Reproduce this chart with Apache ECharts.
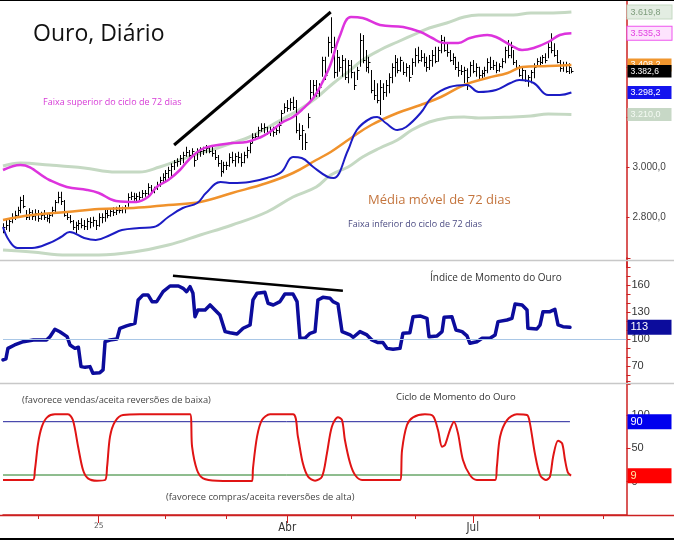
<!DOCTYPE html>
<html><head><meta charset="utf-8">
<script src="https://cdn.jsdelivr.net/npm/echarts@6/dist/echarts.min.js"></script>
<style>html,body{margin:0;padding:0;background:#fff}#c{width:674px;height:540px}</style>
</head><body><div id="c"></div>
<script>
// ---------- axis / category data ----------
const dayCount = 216;                       // trading-day slots on the time axis
const dayIdx = Array.from({length: dayCount}, (_, i) => String(i));
const monthTickIdx = [12, 33, 56, 77, 98, 120, 142, 162, 185, 207];
const monthTickLabels = ['', '25', '', '', 'Abr', '', '', 'Jul', '', ''];
const topAxisLabels = [2800, 3000];
const momAxisLabels = [70, 100, 130, 160];
const cycAxisLabels = [0, 50, 100];

// ---------- price bars (daily) ----------
const barHigh = [2775,2788,2795,2815,2825,2841,2881,2888,2828,2835,2828,2831,2828,2821,2828,2815,2815,2841,2868,2901,
2901,2868,2821,2808,2788,2781,2788,2795,2788,2795,2799,2801,2788,2815,2815,2828,2828,2835,2839,2841,
2848,2841,2848,2895,2901,2897,2895,2901,2908,2908,2935,2928,2921,2941,2961,2975,2988,3001,3015,3028,
3035,3048,3061,3081,3068,3075,3055,3075,3079,3081,3088,3081,3081,3068,3048,3028,3021,3021,3055,3061,
3055,3061,3055,3061,3081,3108,3135,3135,3161,3175,3175,3161,3161,3161,3161,3181,3228,3255,3268,3275,
3281,3268,3175,3168,3135,3215,3348,3348,3348,3335,3441,3441,3521,3599,3521,3468,3441,3448,3435,3428,
3428,3381,3401,3535,3528,3468,3441,3388,3348,3335,3348,3335,3348,3375,3415,3448,3435,3441,3421,3415,
3408,3435,3475,3481,3468,3455,3441,3448,3468,3481,3481,3528,3521,3495,3468,3455,3441,3421,3408,3401,
3395,3421,3428,3415,3401,3388,3401,3435,3441,3428,3421,3415,3435,3481,3508,3501,3468,3428,3408,3401,
3388,3368,3388,3415,3435,3441,3448,3455,3495,3535,3495,3468,3428,3421,3421,3415,3395];
const barLow = [2735,2748,2741,2775,2788,2801,2815,2835,2788,2788,2788,2785,2781,2788,2788,2781,2775,2801,2815,2855,
2848,2801,2788,2775,2748,2735,2748,2755,2748,2748,2755,2761,2748,2761,2775,2781,2795,2801,2804,2808,
2815,2815,2815,2841,2868,2865,2861,2868,2875,2881,2881,2895,2895,2908,2921,2935,2941,2955,2961,2988,
3001,3008,3015,3041,3041,3041,3001,3028,3041,3048,3055,3055,3041,3028,3001,2961,2975,2988,3001,3015,
3001,3015,3001,3015,3035,3055,3095,3108,3115,3141,3135,3128,3124,3121,3128,3135,3175,3215,3221,3225,
3228,3135,3108,3068,3068,3155,3268,3275,3281,3281,3361,3348,3441,3455,3355,3361,3381,3361,3348,3335,
3355,3308,3348,3401,3415,3381,3375,3295,3268,3255,3208,3268,3281,3295,3335,3361,3375,3381,3368,3361,
3341,3368,3401,3415,3421,3401,3381,3388,3401,3415,3421,3455,3461,3441,3421,3408,3388,3361,3368,3335,
3308,3361,3375,3361,3348,3355,3361,3375,3388,3388,3375,3381,3395,3415,3435,3435,3408,3388,3361,3348,
3341,3321,3335,3355,3401,3408,3412,3415,3435,3455,3441,3415,3381,3381,3377,3372,3375];
const barClose = [2760,2770,2785,2800,2810,2830,2870,2845,2800,2820,2805,2815,2795,2810,2800,2795,2810,2830,2860,2880,
2865,2810,2800,2785,2760,2770,2775,2770,2765,2785,2780,2790,2770,2800,2800,2815,2810,2825,2820,2830,
2830,2835,2840,2880,2885,2875,2885,2880,2895,2895,2920,2910,2915,2930,2950,2960,2975,2990,3005,3020,
3025,3035,3050,3060,3050,3065,3030,3060,3065,3070,3075,3065,3055,3040,3015,2985,3010,3010,3040,3030,
3045,3040,3020,3050,3070,3095,3120,3125,3150,3155,3160,3140,3150,3140,3150,3170,3215,3240,3235,3260,
3240,3150,3130,3150,3100,3200,3300,3330,3295,3320,3430,3370,3500,3480,3380,3440,3400,3430,3360,3410,
3380,3330,3390,3510,3430,3400,3420,3310,3290,3270,3320,3300,3330,3360,3400,3420,3390,3430,3380,3400,
3360,3420,3450,3430,3440,3420,3400,3430,3450,3425,3470,3510,3470,3460,3430,3440,3400,3390,3385,3390,
3360,3410,3385,3400,3370,3375,3390,3420,3400,3410,3390,3405,3425,3470,3450,3480,3420,3400,3370,3390,
3350,3360,3380,3400,3425,3420,3440,3430,3480,3470,3450,3420,3395,3410,3385,3400,3382.6];

// ---------- 72-day bands and moving average: [day, price] ----------
const outerUpper = [[0,3004],[6,3016],[16,3008],[28,2996],[39,2980],[47,2980],[54,3000],[61,3028],[68,3056],[74,3076],[79,3096],[85,3120],[91,3156],[97,3196],[102,3228],[108,3276],[114,3336],[119,3380],[124,3428],[130,3468],[136,3500],[143,3536],[147,3556],[153,3576],[159,3600],[164,3608],[176,3608],[182,3616],[188,3616],[196,3619.8]];
const cycleUpper = [[0,2988],[6,3008],[16,2948],[22,2920],[29,2908],[33,2896],[39,2864],[46,2860],[50,2880],[53,2920],[57,2948],[61,2988],[64,3028],[68,3068],[72,3084],[79,3096],[84,3100],[89,3120],[92,3140],[96,3176],[100,3200],[103,3228],[107,3276],[110,3336],[113,3412],[116,3520],[120,3600],[124,3596],[130,3568],[138,3560],[144,3540],[148,3516],[152,3496],[157,3496],[161,3516],[167,3528],[170,3520],[175,3488],[179,3468],[183,3476],[188,3500],[192,3528],[196,3535.3]];
const ma72 = [[0,2788],[10,2808],[22,2820],[33,2832],[45,2836],[57,2848],[68,2860],[79,2896],[91,2936],[100,2976],[108,3028],[113,3060],[120,3116],[127,3168],[136,3216],[144,3248],[151,3280],[159,3328],[167,3356],[174,3376],[179,3400],[188,3404],[196,3408.2]];
const cycleLower = [[0,2760],[2,2708],[5,2676],[10,2676],[16,2696],[20,2720],[23,2740],[28,2716],[32,2708],[37,2728],[41,2748],[47,2756],[52,2760],[57,2800],[62,2836],[67,2856],[70,2896],[75,2940],[79,2936],[85,2940],[91,2956],[96,2980],[100,3040],[103,3036],[107,3000],[112,2960],[114,2956],[119,3068],[122,3148],[127,3196],[129,3200],[132,3176],[136,3148],[139,3160],[144,3216],[148,3280],[154,3320],[160,3328],[164,3300],[170,3308],[175,3336],[178,3348],[183,3336],[188,3288],[192,3288],[196,3298.2]];
const outerLower = [[0,2668],[10,2660],[22,2648],[33,2648],[45,2660],[57,2688],[68,2728],[79,2768],[91,2820],[100,2880],[108,2920],[113,2968],[119,3000],[124,3040],[130,3076],[136,3108],[141,3148],[147,3180],[153,3196],[159,3200],[164,3196],[176,3200],[182,3204],[188,3212],[196,3210]];
const priceTrend = [[59,3088],[113,3620]];
const lastClose = 3382.6;

// ---------- momentum index ----------
const momentum = [[0,76.7],[1,78],[1.7,89.6],[4,93.4],[7,97],[10.5,98.9],[15,98.9],[16.2,102.6],[17.9,110.8],[19.6,108],[22.1,102.6],[23.1,93.4],[24.8,89.6],[26,90.8],[26.9,69.3],[28.3,68.5],[30,69.3],[31,61.9],[33.4,62.6],[34.5,65.6],[35.2,97],[36.9,98.9],[39.3,100],[40.3,111.9],[42.6,114.5],[45.5,117.4],[46.6,143.4],[48.3,149],[50,149],[51.4,141.5],[53,141.5],[55.2,152.6],[57.6,158.9],[60.5,158.9],[62.1,156.3],[63.3,152.6],[64.5,158.2],[65.5,150.8],[66.2,124.8],[67.2,132.2],[69.7,132.2],[71.4,137.8],[73.1,132.2],[74.8,126.7],[76.6,108.2],[78.3,107],[80.7,105.6],[82.8,111.9],[85.2,115.6],[86.2,143.4],[87.6,150.8],[90.3,151.9],[91.4,139.7],[93.2,137.8],[95.5,141.5],[97.2,150],[100,150],[101.4,141.5],[102.4,100.8],[104.1,100.8],[105.9,106.3],[107.6,108.2],[108.6,143.4],[110.3,146.3],[112.8,145.2],[113.8,141.5],[115.5,138.9],[116.9,108.2],[119.7,104.5],[120.8,101.9],[123.1,108.2],[125.5,104.5],[127.2,98.9],[129.3,96],[131,96],[132.4,89.6],[134.5,88.5],[136.9,89.6],[137.9,106.3],[140.3,107],[141.4,124.8],[143.8,125.6],[146.2,123],[146.9,102.6],[149.7,103.4],[151.4,108.2],[152.1,124.1],[154.8,124.8],[156.2,110],[158.3,108.2],[160,103.4],[161,95.2],[163.4,97],[165.2,100.8],[167.9,100.8],[169.7,104.5],[170.7,119.3],[173.8,121.1],[175.5,123],[176.6,138.9],[179,137.8],[180.7,132.2],[181,111.9],[184.1,111.1],[185.2,115.6],[186.2,130.4],[188.6,130.4],[190.3,133],[191.4,115.6],[193.1,113.7],[195.5,113]];
const momentumTrend = [[58.6,170.3],[117.2,153.7]];
const momentumBase = 100;
const momentumLast = 113;

// ---------- momentum cycle ----------
const cycle = [[0,2.5],[10.3,2.5],[11,17.5],[12.1,57.5],[13.4,82.5],[15.2,96.5],[17.9,101],[22.4,101],[24.1,92.5],[25.9,52.5],[27.6,17.5],[29.3,5],[32.4,1.5],[35.2,2.5],[35.9,22.5],[36.9,67.5],[38.6,90],[41.4,100],[47.2,101],[64.5,101],[65.2,52.5],[66.9,17.5],[69,5],[73.8,1.5],[85.9,1],[86.2,20],[87.6,67.5],[89.3,92.5],[92.1,101],[100,101],[101.7,67.5],[103.4,27.5],[105.2,7.5],[107.6,1.5],[110,7.5],[111.7,42.5],[113.4,82.5],[115.5,96.5],[116.9,92.5],[117.9,62.5],[119.7,27.5],[121.4,10],[123.8,2.5],[136.9,2.5],[137.6,47.5],[139.3,85],[141.4,96.5],[145.5,101],[148.3,98.5],[150,77.5],[151.4,52.5],[152.4,55],[154.1,77.5],[155.5,90],[156.9,72.5],[158.6,32.5],[161,10],[163.4,2.5],[169.7,2.5],[170.3,22.5],[171.4,67.5],[173.8,92.5],[177.2,101],[180.7,100],[181.7,87.5],[183.4,42.5],[185.2,10],[187.2,2.5],[188.6,7.5],[189.7,37.5],[191.4,61.5],[192.8,57.5],[193.8,32.5],[194.8,13.5],[195.9,9]];
const cycleHigh = [[0,90],[195.5,90]];
const cycleLow = [[0,10],[195.5,10]];
const cycleLast = 9;

// ---------- helpers ----------
const fmtBR = (v, d) => {
  const s = Number(v).toFixed(d).split('.');
  return s[0].replace(/\B(?=(\d{3})+(?!\d))/g, '.') + (d ? ',' + s[1] : '');
};
const AX = '#cc2020';
function box(val, text, bg, fg, border, fs) {
  return {
    silent: true, symbol: 'none', animation: false,
    lineStyle: {color: 'rgba(0,0,0,0)', width: 0, type: 'solid'},
    data: [{yAxis: val}],
    label: {
      show: true, position: 'end', distance: 1, formatter: text,
      backgroundColor: bg, color: fg, borderColor: border || bg, borderWidth: border ? 1 : 0,
      padding: [1, 2, 1, 3], width: 39, fontSize: fs, lineHeight: fs + 2,
      fontFamily: 'Liberation Sans, Arial, sans-serif', opacity: 1
    }
  };
}
const X0 = {min: 0, max: dayCount - 1, type: 'value', show: false, axisLine: {onZero: false}};
const gridL = 3, gridW = 623.5;

const chart = echarts.init(document.getElementById('c'), null, {renderer: 'canvas'});
chart.setOption({
  animation: false,
  backgroundColor: '#fff',
  grid: [
    {left: gridL, width: gridW, top: 0, height: 267, outerBoundsMode: 'none'},
    {left: gridL, width: gridW, top: 258, height: 126, outerBoundsMode: 'none'},
    {left: gridL, width: gridW, top: 381.7, height: 133.3, outerBoundsMode: 'none'}
  ],
  xAxis: [
    Object.assign({gridIndex: 0}, X0),
    Object.assign({gridIndex: 1}, X0),
    Object.assign({gridIndex: 2}, X0),
    {type: 'category', gridIndex: 2, data: dayIdx, boundaryGap: false, position: 'bottom',
     axisLine: {show: true, onZero: false, lineStyle: {color: AX, width: 1.5}},
     axisTick: {show: true, length: 4, interval: (i) => monthTickIdx.includes(i), lineStyle: {color: AX, width: 1}},
     axisLabel: {show: true, margin: 7, interval: (i) => { const k = monthTickIdx.indexOf(i); return k >= 0 && monthTickLabels[k] !== ''; },
       formatter: (v, i) => { const k = monthTickIdx.indexOf(i); if (k < 0 || !monthTickLabels[k]) return ''; const t = monthTickLabels[k]; return /^\d+$/.test(t) ? '{s|' + t + '}' : '{b|' + t + '}'; },
       rich: {s: {fontSize: 7.5, color: '#555', fontFamily: 'DejaVu Sans'}, b: {fontSize: 11.5, color: '#333', fontFamily: 'DejaVu Sans Condensed, DejaVu Sans'}}},
     splitLine: {show: false}},
    {type: 'category', gridIndex: 2, data: dayIdx, boundaryGap: false, position: 'bottom',
     axisLine: {show: false, onZero: false},
     axisTick: {show: true, length: 8, interval: (i) => { const k = monthTickIdx.indexOf(i); return k >= 0 && monthTickLabels[k] !== ''; }, lineStyle: {color: AX, width: 1}},
     axisLabel: {show: false}, splitLine: {show: false}}
  ],
  yAxis: [
    {type: 'value', gridIndex: 0, position: 'right', min: 2600, max: 3668, interval: 200,
     axisLine: {show: true, onZero: false, lineStyle: {color: AX, width: 1.5}},
     axisTick: {show: true, inside: false, length: 3, lineStyle: {color: AX}},
     axisLabel: {margin: 6, fontSize: 10, color: '#444', fontFamily: 'Liberation Sans, Arial', formatter: (v) => topAxisLabels.includes(v) ? fmtBR(v, 1) : ''},
     splitLine: {show: false}},
    {type: 'value', gridIndex: 1, position: 'right', min: 50, max: 190, interval: 10,
     axisLine: {show: true, onZero: false, lineStyle: {color: AX, width: 1.5}},
     axisTick: {show: true, length: 4, lineStyle: {color: AX}},
     axisLabel: {margin: 5, fontSize: 11, color: '#333', fontFamily: 'Liberation Sans, Arial', formatter: (v) => momAxisLabels.includes(v) ? String(v) : ''},
     splitLine: {show: false}},
    {type: 'value', gridIndex: 2, position: 'right', min: -50, max: 150, interval: 50,
     axisLine: {show: true, onZero: false, lineStyle: {color: AX, width: 1.5}},
     axisTick: {show: true, length: 4, lineStyle: {color: AX}},
     axisLabel: {margin: 5, fontSize: 11, color: '#333', fontFamily: 'Liberation Sans, Arial', formatter: (v) => cycAxisLabels.includes(v) ? String(v) : ''},
     splitLine: {show: false}}
  ],
  series: [
    {name: 'outerUpper', type: 'line', xAxisIndex: 0, yAxisIndex: 0, data: outerUpper, smooth: 0.4, showSymbol: false, z: 2,
     lineStyle: {color: '#c5d9c3', width: 3}, markLine: box(3619.8, (p) => fmtBR(p.value, 1), '#e3ede2', '#7e9c7c', '#c5d9c3', 9)},
    {name: 'outerLower', type: 'line', xAxisIndex: 0, yAxisIndex: 0, data: outerLower, smooth: 0.4, showSymbol: false, z: 2,
     lineStyle: {color: '#c5d9c3', width: 3}, markLine: box(3210, (p) => fmtBR(p.value, 1), '#c7d8c6', '#f4faf3', null, 9)},
    {name: 'bars', type: 'custom', xAxisIndex: 0, yAxisIndex: 0, z: 3,
     data: barHigh.map((h, i) => [i, h, barLow[i], barClose[i]]),
     encode: {x: 0, y: [1, 2, 3]},
     renderItem: (params, api) => {
       const i = api.value(0);
       const hi = api.coord([i, api.value(1)]);
       const lo = api.coord([i, api.value(2)]);
       const cl = api.coord([i, api.value(3)]);
       const x = Math.round(hi[0]) + 0.5;
       const yc = Math.round(cl[1]) + 0.5;
       return {type: 'group', children: [
         {type: 'line', shape: {x1: x, y1: hi[1], x2: x, y2: lo[1]}, style: {stroke: '#000', lineWidth: 1}},
         {type: 'line', shape: {x1: x, y1: yc, x2: x + 2, y2: yc}, style: {stroke: '#000', lineWidth: 1}}
       ]};
     }},
    {name: 'cycleUpper', type: 'line', xAxisIndex: 0, yAxisIndex: 0, data: cycleUpper, smooth: 0.4, showSymbol: false, z: 4,
     lineStyle: {color: '#dd33dd', width: 2.5}, markLine: box(3535.3, (p) => fmtBR(p.value, 1), '#fde3fd', '#e23ee2', '#ee55ee', 9)},
    {name: 'ma72', type: 'line', xAxisIndex: 0, yAxisIndex: 0, data: ma72, smooth: 0.4, showSymbol: false, z: 4,
     lineStyle: {color: '#f0922c', width: 2.5}, markLine: box(3408.2, (p) => fmtBR(p.value, 1), '#f0962e', '#fff', null, 9)},
    {name: 'cycleLower', type: 'line', xAxisIndex: 0, yAxisIndex: 0, data: cycleLower, smooth: 0.4, showSymbol: false, z: 4,
     lineStyle: {color: '#1c1cc4', width: 2}, markLine: box(3298.2, (p) => fmtBR(p.value, 1), '#1414ee', '#fff', null, 9)},
    {name: 'priceTrend', type: 'line', xAxisIndex: 0, yAxisIndex: 0, data: priceTrend, showSymbol: false, z: 5,
     lineStyle: {color: '#000', width: 3}},
    {name: 'close', type: 'line', xAxisIndex: 0, yAxisIndex: 0, data: [[dayCount - 20, lastClose]], showSymbol: false, z: 6,
     lineStyle: {opacity: 0}, markLine: box(lastClose, (p) => fmtBR(p.value, 1), '#000', '#fff', null, 8.5)},

    {name: 'momentum', type: 'line', xAxisIndex: 1, yAxisIndex: 1, data: momentum, showSymbol: false, z: 4,
     lineStyle: {color: '#0c0c9c', width: 3.5, join: 'round', cap: 'round'},
     markLine: {silent: true, symbol: 'none', animation: false,
       data: [
         {yAxis: momentumBase, lineStyle: {color: '#a9c7e6', width: 1, type: 'solid', opacity: 1}, label: {show: false}}
       ]}},
    {name: 'momentumBox', type: 'line', xAxisIndex: 1, yAxisIndex: 1, data: [[dayCount - 20, momentumLast]], showSymbol: false, z: 6,
     lineStyle: {opacity: 0}, markLine: box(momentumLast, (p) => String(Math.round(p.value)), '#0c0c9c', '#fff', null, 11)},
    {name: 'momentumTrend', type: 'line', xAxisIndex: 1, yAxisIndex: 1, data: momentumTrend, showSymbol: false, z: 5,
     lineStyle: {color: '#000', width: 2.5}},

    {name: 'cycleHigh', type: 'line', xAxisIndex: 2, yAxisIndex: 2, data: cycleHigh, showSymbol: false, z: 2,
     lineStyle: {color: '#20209a', width: 1}, markLine: box(90, (p) => String(Math.round(p.value)), '#0000ee', '#fff', null, 11)},
    {name: 'cycleLow', type: 'line', xAxisIndex: 2, yAxisIndex: 2, data: cycleLow, showSymbol: false, z: 2,
     lineStyle: {color: '#1f7a1f', width: 1}},
    {name: 'cycle', type: 'line', xAxisIndex: 2, yAxisIndex: 2, data: cycle, smooth: 0.3, showSymbol: false, z: 4,
     lineStyle: {color: '#e01414', width: 2}, markLine: box(cycleLast, (p) => String(Math.round(p.value)), '#ff0000', '#ffe9a8', null, 11)}
  ],
  graphic: [
    {type: 'line', shape: {x1: 0, y1: 260.5, x2: 674, y2: 260.5}, style: {stroke: '#c8c8c8', lineWidth: 1.5}, z: 1},
    {type: 'line', shape: {x1: 0, y1: 383.5, x2: 674, y2: 383.5}, style: {stroke: '#c8c8c8', lineWidth: 1.5}, z: 1},
    {type: 'line', shape: {x1: 0, y1: 515.5, x2: 674, y2: 515.5}, style: {stroke: AX, lineWidth: 1.5}, z: 1},
    {type: 'line', shape: {x1: 0, y1: 0.5, x2: 674, y2: 0.5}, style: {stroke: '#000', lineWidth: 1}, z: 1},
    {type: 'line', shape: {x1: 0, y1: 539, x2: 674, y2: 539}, style: {stroke: '#000', lineWidth: 2}, z: 1},
    {type: 'text', x: 33, y: 34, z: 10, style: {text: 'Ouro, Diário', fill: '#111', font: '23px "Open Sans", sans-serif', verticalAlign: 'middle'}},
    {type: 'text', x: 43, y: 102, z: 10, style: {text: 'Faixa superior do ciclo de 72 dias', fill: '#d63ad6', font: '9px "Open Sans", sans-serif', verticalAlign: 'middle'}},
    {type: 'text', x: 368, y: 200, z: 10, style: {text: 'Média móvel de 72 dias', fill: '#c4753e', font: '13px "Open Sans", sans-serif', verticalAlign: 'middle'}},
    {type: 'text', x: 348, y: 224, z: 10, style: {text: 'Faixa inferior do ciclo de 72 dias', fill: '#4b4b82', font: '9px "Open Sans", sans-serif', verticalAlign: 'middle'}},
    {type: 'text', x: 430, y: 278, z: 10, style: {text: 'Índice de Momento do Ouro', fill: '#333', font: '10px "Open Sans", sans-serif', verticalAlign: 'middle'}},
    {type: 'text', x: 22, y: 400, z: 10, style: {text: '(favorece vendas/aceita reversões de baixa)', fill: '#444', font: '9.3px "Open Sans", sans-serif', verticalAlign: 'middle'}},
    {type: 'text', x: 396, y: 397, z: 10, style: {text: 'Ciclo de Momento do Ouro', fill: '#333', font: '9.5px "Open Sans", sans-serif', verticalAlign: 'middle'}},
    {type: 'text', x: 166, y: 497, z: 10, style: {text: '(favorece compras/aceita reversões de alta)', fill: '#444', font: '9.3px "Open Sans", sans-serif', verticalAlign: 'middle'}}
  ]
});
</script></body></html>
